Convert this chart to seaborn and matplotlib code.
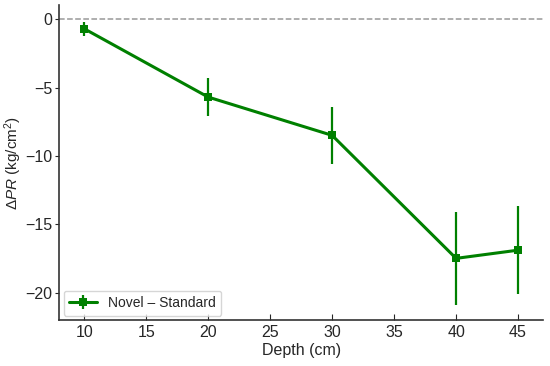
import numpy as np
import pandas as pd
import matplotlib
matplotlib.use("Agg")
import matplotlib.pyplot as plt
import seaborn as sns

depth = [10, 20, 30, 40, 45]
delta_pr = [-0.7, -5.7, -8.5, -17.5, -16.9]
err = [0.5, 1.4, 2.1, 3.4, 3.2]
label = "Novel \u2013 Standard"

sns.set_style("ticks")
plt.rcParams["font.family"] = ["Liberation Sans", "DejaVu Sans"]
plt.rcParams["mathtext.fontset"] = "custom"
plt.rcParams["mathtext.rm"] = "Liberation Sans"
plt.rcParams["mathtext.it"] = "Liberation Sans:italic"

df = pd.DataFrame({"depth": depth, "dpr": delta_pr, "err": err})

fig, ax = plt.subplots(figsize=(5.5, 3.66), dpi=100)
ax.axhline(0, color="#999999", ls="--", lw=1.1)
sns.lineplot(data=df, x="depth", y="dpr", color="green", lw=2.2, marker="s",
             markersize=6, markeredgewidth=0, ax=ax, legend=False)
line = ax.lines[-1]
eb = ax.errorbar(df["depth"], df["dpr"], yerr=df["err"], fmt="none",
                 ecolor="green", elinewidth=1.6, capsize=0)

ax.set_xlim(8, 47)
ax.set_ylim(-22, 1)
ax.set_xticks([10, 15, 20, 25, 30, 35, 40, 45])
ax.set_yticks([0, -5, -10, -15, -20])
ax.tick_params(axis="x", direction="in", labelsize=11.5, length=4, pad=4)
ax.tick_params(axis="y", direction="out", labelsize=11.5, length=3, pad=2)
ax.set_xlabel("Depth (cm)", fontsize=11.5, labelpad=2)
ax.set_ylabel(r"$\Delta PR$ (kg/cm$^2$)", fontsize=11, labelpad=1)
sns.despine(ax=ax)
for s in ["left", "bottom"]:
    ax.spines[s].set_linewidth(1.2)
    ax.spines[s].set_color("#333333")
ax.legend(handles=[(line, eb)], labels=[label], loc="lower left", fontsize=10,
          frameon=True, borderaxespad=0.3)

fig.subplots_adjust(left=0.108, right=0.987, bottom=0.126, top=0.985)
fig.savefig("out.png")
